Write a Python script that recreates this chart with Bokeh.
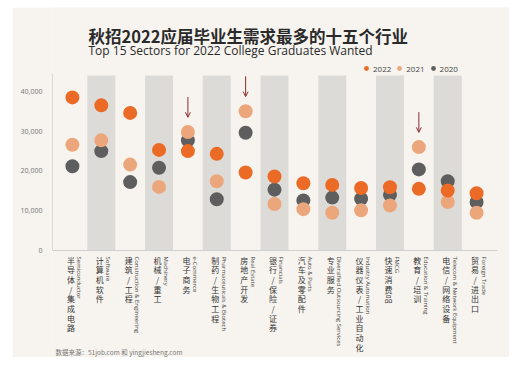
import numpy as np
from bokeh.plotting import figure
from bokeh.models import (ColumnDataSource, Label, Legend, LegendItem,
                          Arrow, OpenHead, NumeralTickFormatter, FixedTicker, Range1d)
from bokeh.core.properties import value
from bokeh.embed import file_html
from bokeh.resources import INLINE

# ---------------- data ----------------
sectors_en = ["Semiconductor", "Software", "Construction & Engineering", "Machinery",
              "e-Commerce", "Pharmaceuticals & Biotech", "Real Estate", "Financials",
              "Auto & Parts", "Diversified Outsourcing Services", "Industry Automation",
              "FMCG", "Education & Training", "Telecom & Network Equipment", "Foreign Trade"]
sectors_cn = ["半导体/集成电路", "计算机软件", "建筑/工程", "机械/重工", "电子商务",
              "制药/生物工程", "房地产开发", "银行/保险/证券", "汽车及零配件", "专业服务",
              "仪器仪表/工业自动化", "快速消费品", "教育/培训", "电信/网络设备", "贸易/进出口"]
v2022 = [38500, 36500, 34600, 25300, 25000, 24300, 19600, 18600, 16900, 16500,
         15700, 15900, 15500, 15100, 14400]
v2021 = [26600, 27700, 21600, 16000, 29800, 17400, 35000, 11700, 10400, 9500,
         10100, 11300, 26000, 12200, 9500]
v2020 = [21200, 25000, 17200, 20800, 27700, 12900, 29600, 15300, 12600, 13300,
         13000, 14000, 20400, 17400, 12200]
flagged = ["e-Commerce", "Real Estate", "Education & Training"]
y_ticks = [0, 10000, 20000, 30000, 40000]
series_labels = ["2022", "2021", "2020"]
title_cn = "秋招2022应届毕业生需求最多的十五个行业"
title_en = "Top 15 Sectors for 2022 College Graduates Wanted"
source_note = "数据来源：51job.com 和 yingjiesheng.com"

# ---------------- style ----------------
BG = "#f7f4ef"
BAND = "#dcdbd8"
C22, C21, C20 = "#ea6a26", "#eca67b", "#5e5e5e"
ARROW = "#8a2e2e"
X0, X1 = -0.69, 15.14          # visible x extent (axis spans X0..XA)
XA = 14.73
Y0, Y1 = -26900, 61100         # frame covers the whole panel
YA = 44500                     # top of the value axis

idx = list(range(len(sectors_en)))

p = figure(width=497, height=350, x_range=Range1d(X0, X1), y_range=Range1d(Y0, Y1),
           output_backend="svg", toolbar_location=None,
           min_border_left=40, min_border_right=0, min_border_top=0, min_border_bottom=0,
           background_fill_color=BG, border_fill_color=BG, outline_line_color=None,
           margin=(7, 7, 12, 12))
p.grid.visible = False

# axes
p.xaxis.fixed_location = 0
p.xaxis.bounds = (X0, XA)
p.xaxis.major_label_text_font_size = "0px"
p.xaxis.major_tick_line_color = None
p.xaxis.minor_tick_line_color = None
p.xaxis.axis_line_color = "#cfcfcf"
p.yaxis.bounds = (0, YA)
p.yaxis.ticker = FixedTicker(ticks=y_ticks)
p.yaxis.formatter = NumeralTickFormatter(format="0,0")
p.yaxis.major_label_text_font_size = "7px"
p.yaxis.major_label_text_font = "Noto Sans"
p.yaxis.major_label_text_color = "#7a7a7a"
p.yaxis.axis_line_color = "#d8d8d8"
p.yaxis.major_tick_line_color = None
p.yaxis.minor_tick_line_color = None
p.yaxis.major_label_standoff = 4

# alternating bands
band_x = [i for i in idx if i % 2 == 1]
p.vbar(x=band_x, top=44000, bottom=0, width=0.97, fill_color=BAND, line_color=None)

# dots
r20 = p.scatter(x=idx, y=v2020, size=14, fill_color=C20, line_color=None)
r21 = p.scatter(x=idx, y=v2021, size=14, fill_color=C21, line_color=None)
r22 = p.scatter(x=idx, y=v2022, size=14, fill_color=C22, line_color=None)

# arrows over flagged sectors
for name in flagged:
    i = sectors_en.index(name)
    top = max(v2022[i], v2021[i], v2020[i])
    p.add_layout(Arrow(x_start=i, y_start=top + 8800, x_end=i, y_end=top + 3700,
                       line_color=ARROW, line_width=1,
                       end=OpenHead(size=5, line_color=ARROW, line_width=1)))

# legend
legend = Legend(items=[LegendItem(label=series_labels[0], renderers=[r22]),
                       LegendItem(label=series_labels[1], renderers=[r21]),
                       LegendItem(label=series_labels[2], renderers=[r20])],
                location=(308, 283), orientation="horizontal",
                glyph_width=12, glyph_height=12, label_height=12, label_width=18,
                label_text_font_size="8px", label_text_font="Open Sans",
                label_text_color="#444444", label_standoff=1, spacing=2,
                padding=0, margin=0, background_fill_alpha=0, border_line_color=None)
p.add_layout(legend)

# category labels (English: rotated, anchored a little right of / below each slot)
src = ColumnDataSource(dict(x=idx, y=[0] * len(idx),
                            x_en=[i + 0.24 for i in idx], y_en=[-1500] * len(idx),
                            en=sectors_en,
                            cn=["\n".join(list(s)) for s in sectors_cn]))
p.text(x="x_en", y="y_en", text="en", source=src, angle=-np.pi / 2,
       text_align="left", text_baseline="middle",
       text_font_size="6px", text_font=value("Open Sans"), text_color="#444444")
p.text(x="x", y="y", text="cn", source=src,
       x_offset=-1.5, y_offset=4, text_align="center", text_baseline="top",
       text_font_size="8px", text_font=value("Noto Sans CJK SC"),
       text_color="#333333", text_line_height=0.88)

# titles and note
p.add_layout(Label(x=X0, y=0, x_offset=36, y_offset=215, text=title_cn,
                   text_font="Noto Sans CJK SC", text_font_size="16.5px",
                   text_font_style="bold",
                   text_color="#2a2a2a", text_baseline="middle", text_align="left"))
p.add_layout(Label(x=X0, y=0, x_offset=36, y_offset=200, text=title_en,
                   text_font="Open Sans", text_font_size="12px",
                   text_color="#2a2a2a", text_baseline="middle", text_align="left"))
p.add_layout(Label(x=X0, y=0, x_offset=3, y_offset=-101, text=source_note,
                   text_font="Noto Sans CJK SC", text_font_size="6.5px",
                   text_color="#777777", text_baseline="middle", text_align="left"))

open("out.html", "w").write(file_html(p, INLINE))
